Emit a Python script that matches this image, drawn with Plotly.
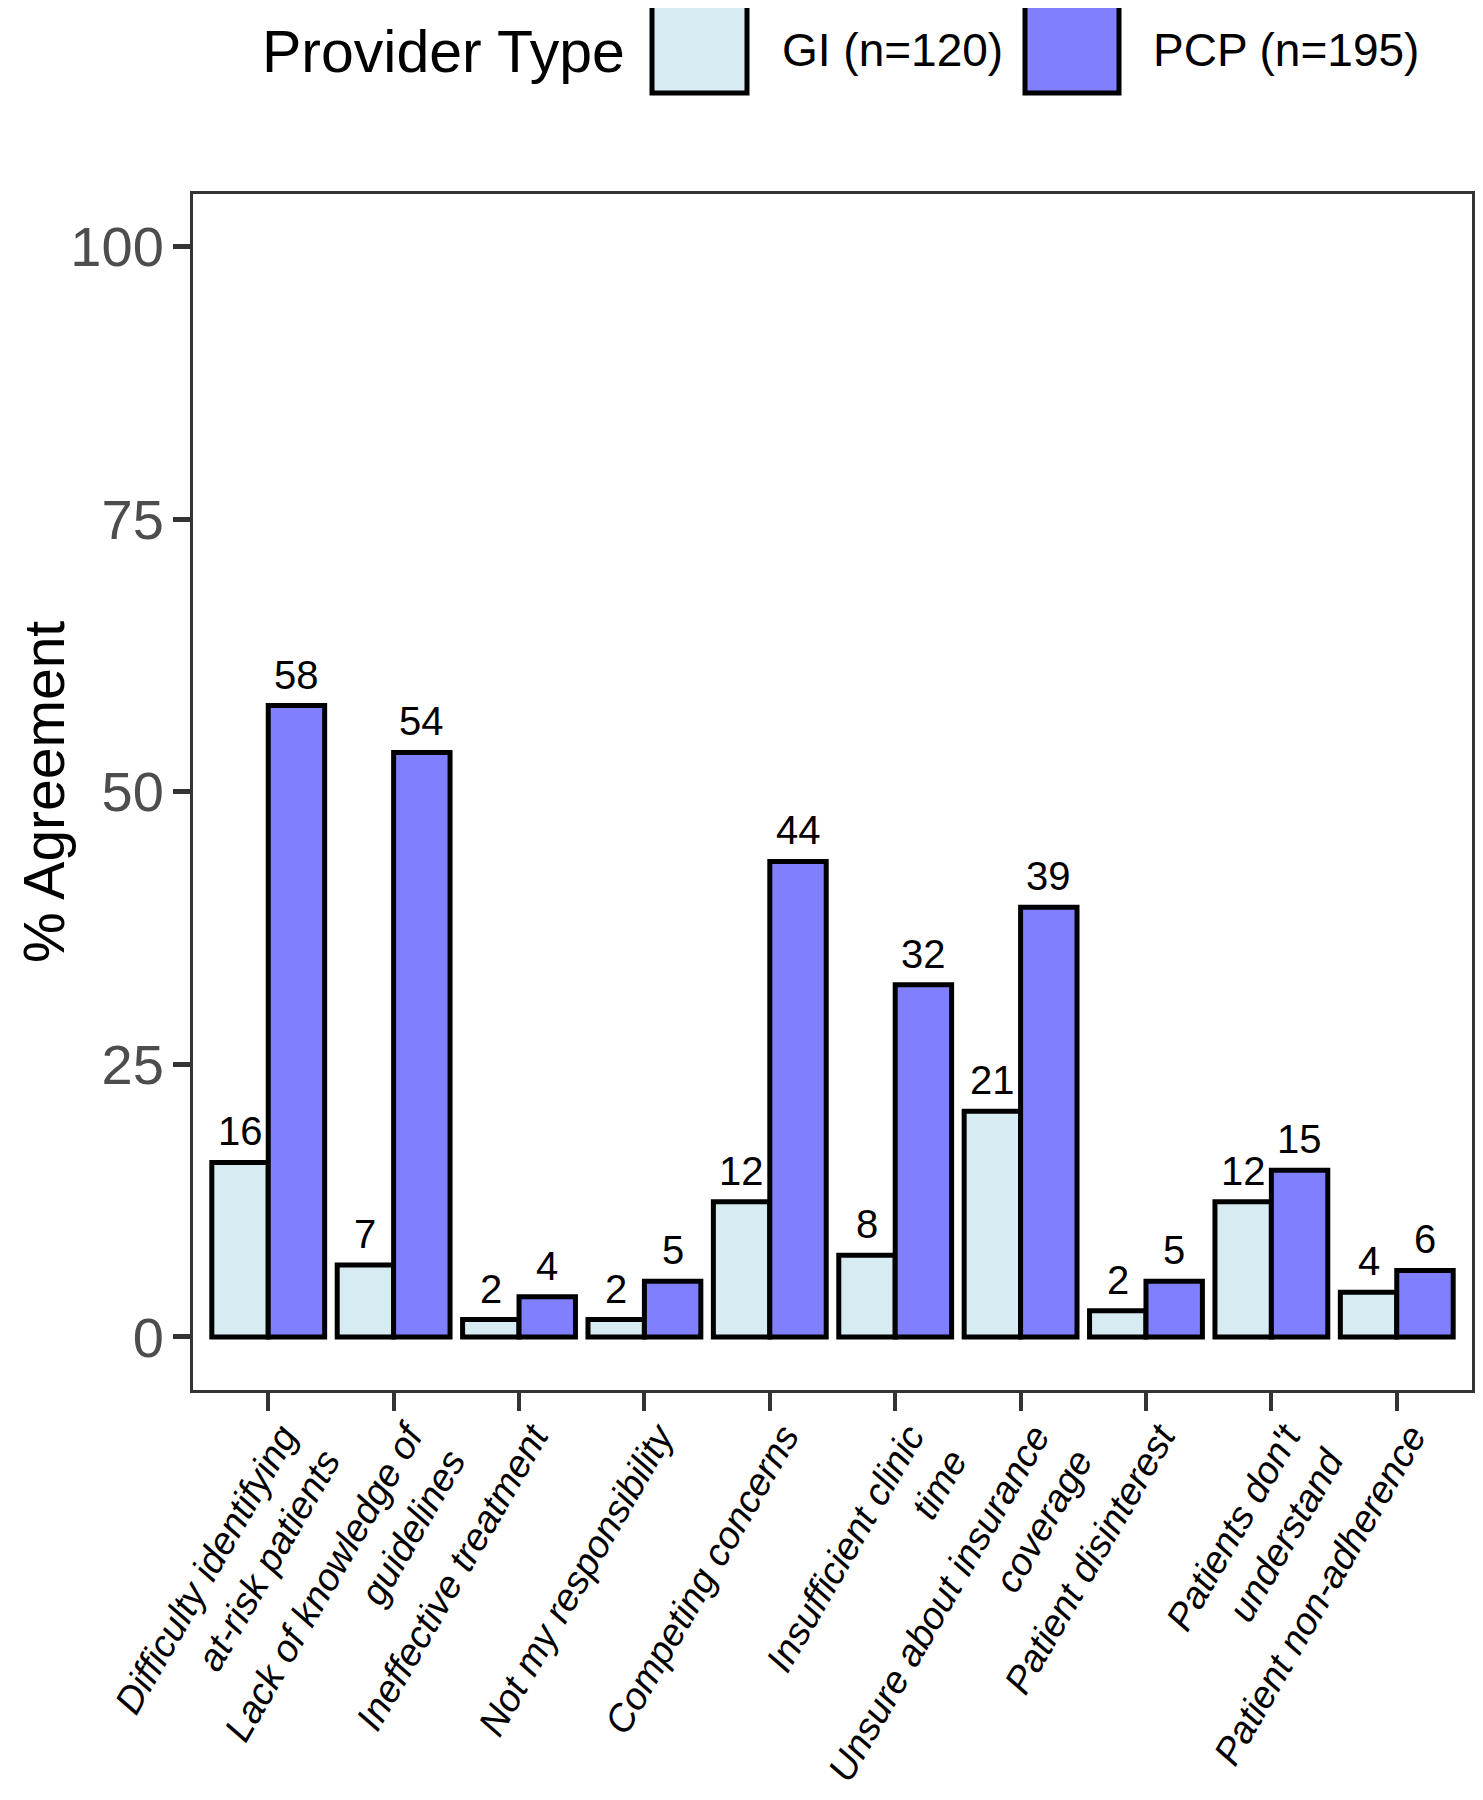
import plotly.graph_objects as go

# ---------------- data ----------------
categories = [
    "Difficulty identifying<br>at-risk patients",
    "Lack of knowledge of<br>guidelines",
    "Ineffective treatment",
    "Not my responsibility",
    "Competing concerns",
    "Insufficient clinic<br>time",
    "Unsure about insurance<br>coverage",
    "Patient disinterest",
    "Patients don't<br>understand",
    "Patient non-adherence",
]
gi_values = [16.0, 6.6, 1.6, 1.6, 12.4, 7.5, 20.7, 2.4, 12.4, 4.1]
pcp_values = [57.9, 53.6, 3.7, 5.1, 43.6, 32.3, 39.4, 5.1, 15.3, 6.1]
gi_labels = ["16", "7", "2", "2", "12", "8", "21", "2", "12", "4"]
pcp_labels = ["58", "54", "4", "5", "44", "32", "39", "5", "15", "6"]
series_names = ["GI (n=120)", "PCP (n=195)"]
y_ticks = [0, 25, 50, 75, 100]
legend_title = "Provider Type"
y_title = "% Agreement"

# ---------------- style ----------------
PAGE_OFF = 8                      # default body margin of the html page
W, H = 1483 - 2 * PAGE_OFF, 1800 - 2 * PAGE_OFF
L, R, T = 193 - PAGE_OFF, 3, 194 - PAGE_OFF
B = H - (1390 - PAGE_OFF)
FONT = "Liberation Sans, Arial, sans-serif"
GI_COLOR = "#D6EBF2"
PCP_COLOR = "#8080FF"
AXIS_COLOR = "#333333"
X_RANGE = [-0.6, 9.6]
BAR_FRAC = 0.45                    # width of one bar in category units

plot_w = W - L - R
px_per_cat = plot_w / (X_RANGE[1] - X_RANGE[0])

def px_x(px):   # page pixel -> paper
    return (px - PAGE_OFF - L) / plot_w

def px_y(py):
    return 1 - (py - PAGE_OFF - T) / (H - T - B)

fig = go.Figure()
for name, vals, col in [
    (series_names[0], gi_values, GI_COLOR),
    (series_names[1], pcp_values, PCP_COLOR),
]:
    fig.add_trace(go.Bar(
        x=categories, y=vals, name=name,
        marker=dict(color=col, line=dict(color="black", width=5)),
        cliponaxis=False, showlegend=False,
    ))

# value labels above bars (dodged like the bars)
for labs, vals, sign in [(gi_labels, gi_values, -1), (pcp_labels, pcp_values, 1)]:
    for c, v, t in zip(categories, vals, labs):
        fig.add_annotation(
            x=c, y=v, xref="x", yref="y", text=t, showarrow=False,
            xanchor="center", yanchor="bottom",
            xshift=sign * BAR_FRAC / 2 * px_per_cat, yshift=7,
            font=dict(family=FONT, size=40, color="black"),
        )

fig.update_layout(
    width=W, height=H,
    margin=dict(l=L, r=R, t=T, b=B, autoexpand=False),
    paper_bgcolor="white", plot_bgcolor="white",
    barmode="group", bargap=0.1, bargroupgap=0,
    font=dict(family=FONT, color="black"),
)
fig.update_xaxes(
    type="category", range=X_RANGE,
    showline=True, mirror=True, linecolor=AXIS_COLOR, linewidth=3,
    ticks="outside", ticklen=18, tickwidth=4, tickcolor=AXIS_COLOR,
    tickangle=-60, ticklabelstandoff=-12, ticklabelshift=14,
    tickfont=dict(family=FONT, size=38, color="black", style="italic"),
    showgrid=False, zeroline=False,
)
fig.update_yaxes(
    range=[-4.86, 104.8], tickvals=y_ticks,
    showline=True, mirror=True, linecolor=AXIS_COLOR, linewidth=3,
    ticks="outside", ticklen=17, tickwidth=5, tickcolor=AXIS_COLOR,
    ticklabelstandoff=-2,
    tickfont=dict(family=FONT, size=56, color="#4D4D4D"),
    showgrid=False, zeroline=False,
)

# y-axis title (placed as annotation so it can sit close to the page edge)
fig.add_annotation(xref="paper", yref="paper", x=px_x(44), y=0.5,
                   xanchor="center", yanchor="middle", showarrow=False, textangle=-90,
                   text=y_title, font=dict(family=FONT, size=57, color="black"))

# ---------------- legend (drawn manually to match the large keys) ----------------
key_boxes = [(652, 747, GI_COLOR, 780, series_names[0]), (1025, 1119, PCP_COLOR, 1151, series_names[1])]
for x0, x1, col, tx, label in key_boxes:
    fig.add_shape(type="rect", xref="paper", yref="paper",
                  x0=px_x(x0), x1=px_x(x1), y0=px_y(93), y1=px_y(2),
                  fillcolor=col, line=dict(color="black", width=5))
    fig.add_annotation(xref="paper", yref="paper", x=px_x(tx), y=px_y(50),
                       xanchor="left", yanchor="middle", showarrow=False,
                       text=label, font=dict(family=FONT, size=46, color="black"))
fig.add_annotation(xref="paper", yref="paper", x=px_x(260), y=px_y(52),
                   xanchor="left", yanchor="middle", showarrow=False,
                   text=legend_title, font=dict(family=FONT, size=59, color="black"))

fig.write_html("out.html")
